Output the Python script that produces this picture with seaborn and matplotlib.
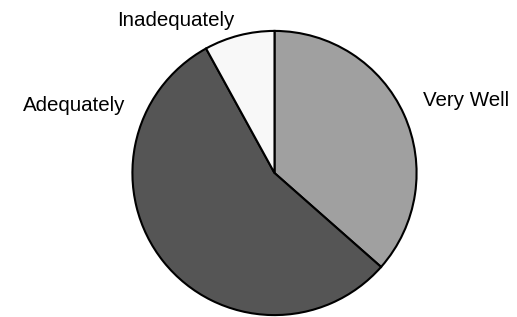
import matplotlib
matplotlib.use('Agg')
import matplotlib.pyplot as plt
import seaborn as sns

sns.set_style('white')
plt.rcParams['font.family'] = ['Liberation Sans', 'DejaVu Sans']

# 数据
labels = ['Very Well', 'Adequately', 'Inadequately']
values = [36.5, 55.5, 8.0]
colors = ['#a0a0a0', '#555555', '#f8f8f8']
# 标签位置 (半径单位, 基线)
label_pos = [(1.35, 0.474), (-1.41, 0.439), (-0.697, 1.038)]

fig = plt.figure(figsize=(5.17, 3.17), dpi=100)
ax = fig.add_axes([131 / 517, 0.5 / 317, 287 / 517, 287 / 317])
ax.pie(values, colors=colors, startangle=90, counterclock=False,
       wedgeprops={'edgecolor': 'black', 'linewidth': 1.5})
ax.set_xlim(-1.01, 1.01)
ax.set_ylim(-1.01, 1.01)
ax.set_aspect('equal')
ax.axis('off')

for lab, (x, y) in zip(labels, label_pos):
    ax.text(x, y, lab, ha='center', va='baseline', fontsize=14.8, color='black')

fig.savefig('out.png', dpi=100)
